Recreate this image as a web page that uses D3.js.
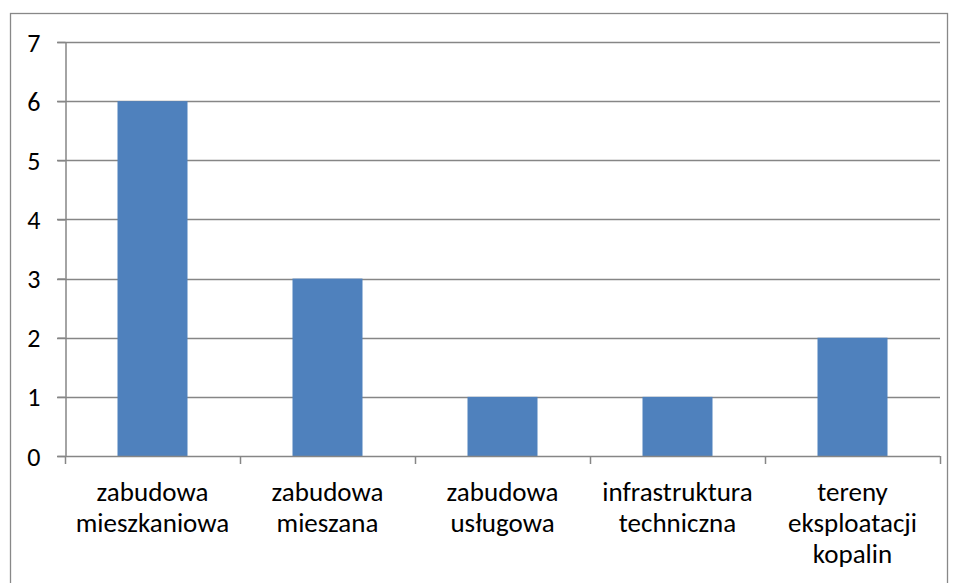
<!DOCTYPE html>
<html><head><meta charset="utf-8">
<script src="https://cdn.jsdelivr.net/npm/d3@7"></script>
<style>body{margin:0;background:#fff}svg{display:block}text{font-family:Carlito,Calibri,Lato,"Noto Sans",sans-serif;fill:#000}</style>
</head><body>
<svg id="c" width="957" height="583"></svg>
<script>
const categories = [["zabudowa","mieszkaniowa"],["zabudowa","mieszana"],["zabudowa","usługowa"],["infrastruktura","techniczna"],["tereny","eksploatacji","kopalin"]];
const values = [6,3,1,1,2];
const yTicks = [0,1,2,3,4,5,6,7];

(function(){
const svg = d3.select("#c");
svg.append("rect").attr("x",10.5).attr("y",13.5).attr("width",937).attr("height",600).attr("fill","none").attr("stroke","#888").attr("stroke-width",1.3);

const L=65, R=940, T=42, B=456;
const x = d3.scaleBand().domain(d3.range(values.length)).range([L,R]).paddingInner(0.6).paddingOuter(0.3);
const y = d3.scaleLinear().domain([0,7]).range([B,T]);

svg.append("g").selectAll("line").data(yTicks.filter(d=>d>0)).join("line")
  .attr("x1",L-8).attr("x2",R).attr("y1",d=>Math.round(y(d))+0.5).attr("y2",d=>Math.round(y(d))+0.5)
  .attr("stroke","#868686").attr("stroke-width",1.5);

svg.append("g").selectAll("rect").data(values).join("rect")
  .attr("x",(d,i)=>x(i)).attr("width",x.bandwidth())
  .attr("y",d=>y(d)).attr("height",d=>y(0)-y(d)).attr("fill","#4F81BD");

const ya = svg.append("g").attr("transform",`translate(${L+0.5},0)`)
  .call(d3.axisLeft(y).tickValues(yTicks).tickFormat(d3.format("d")).tickSize(8).tickPadding(17).tickSizeOuter(0));
ya.attr("font-family",null).attr("font-size",null);
ya.select(".domain").attr("stroke","#868686").attr("stroke-width",1.5);
ya.selectAll(".tick line").attr("stroke","#868686").attr("stroke-width",1.5);
ya.selectAll(".tick text").attr("font-size",26).attr("fill","#000").attr("dy","0.35em");

const step = (R-L)/values.length;
svg.append("line").attr("x1",L-8).attr("x2",R).attr("y1",B+0.5).attr("y2",B+0.5).attr("stroke","#868686").attr("stroke-width",1.5);
svg.append("g").selectAll("line").data(d3.range(values.length+1)).join("line")
  .attr("x1",i=>Math.round(L+i*step)+0.5).attr("x2",i=>Math.round(L+i*step)+0.5)
  .attr("y1",B).attr("y2",B+8).attr("stroke","#868686").attr("stroke-width",1.5);

const lab = svg.append("g").selectAll("text").data(categories).join("text")
  .attr("text-anchor","middle").attr("font-size",27)
  .attr("x",(d,i)=>x(i)+x.bandwidth()/2).attr("y",501);
lab.selectAll("tspan").data(d=>d).join("tspan")
  .attr("x",function(){return this.parentNode.getAttribute("x");})
  .attr("dy",(d,i)=>i===0?0:31).text(d=>d);
})();
</script>
</body></html>
